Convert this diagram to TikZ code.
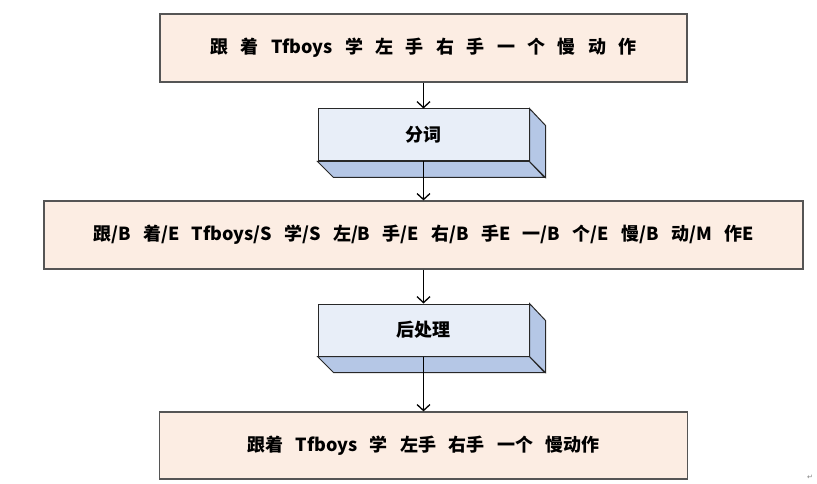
\documentclass[tikz,border=0pt]{standalone}
\usepackage{fontspec}
\usepackage{xcolor}
\usepackage{tikz}
\usetikzlibrary{arrows.meta}

\newfontfamily\cjk[WordSpace=3]{Noto Sans CJK SC}
\newfontfamily\symfont{DejaVu Sans}

\definecolor{peach}{RGB}{252,237,227}
\definecolor{boxgray}{RGB}{85,85,85}
\definecolor{slabfront}{RGB}{232,238,248}
\definecolor{slabside}{RGB}{181,199,230}
\definecolor{slabline}{RGB}{40,40,40}

\tikzset{
  textbox/.style={draw=boxgray, line width=1.2pt, fill=peach, inner sep=0pt,
    font=\cjk\bfseries\fontsize{18}{20}\selectfont},
  slab/.style={draw=slabline, line width=1pt, fill=slabfront, inner sep=0pt,
    minimum width=211pt, minimum height=52pt,
    font=\cjk\bfseries\fontsize{18}{20}\selectfont},
  slabface/.style={draw=slabline, line width=1pt, fill=slabside},
  flow/.style={line width=1.3pt, -{Straight Barb[length=6pt,width=13pt]}}
}

\begin{document}
\begin{tikzpicture}[x=1pt,y=-1pt]
    \useasboundingbox (0,0) rectangle (817,484);
    % 原句
    \node[textbox, minimum width=527pt, minimum height=68pt] (src) at (423.5,48)
        {跟 着 Tfboys 学 左 手 右 手 一 个 慢 动 作};
    % 分词
    \node[slab] (seg) at (423.5,135) {分词};
    \filldraw[slabface] (seg.south west) -- ++(16,16) -- ++(211,0) -- (seg.south east) -- cycle;
    \filldraw[slabface] (seg.south east) -- ++(16,16) -- ++(0,-52) -- (seg.north east) -- cycle;
    % 标注结果
    \node[textbox, minimum width=759pt, minimum height=68pt] (tag) at (423.5,235)
        {跟/B 着/E Tfboys/S 学/S 左/B 手/E 右/B 手E 一/B 个/E 慢/B 动/M 作E};
    % 后处理
    \node[slab] (post) at (423.5,330) {后处理};
    \filldraw[slabface] (post.south west) -- ++(16,16) -- ++(211,0) -- (post.south east) -- cycle;
    \filldraw[slabface] (post.south east) -- ++(16,16) -- ++(0,-52) -- (post.north east) -- cycle;
    % 最终结果
    \node[textbox, minimum width=528pt, minimum height=67pt] (res) at (423.5,445.5)
        {跟着 Tfboys 学 左手 右手 一个 慢动作};
    % 箭头
    \draw[flow] (src.south) -- (seg.north);
    \draw[flow] (seg.south) -- (tag.north);
    \draw[flow] (tag.south) -- (post.north);
    \draw[flow] (post.south) -- (res.north);
    % 段落标记
    \node[font=\symfont\fontsize{7}{7}\selectfont, text=gray] (para) at (810,477) {↵};
\end{tikzpicture}
\end{document}
